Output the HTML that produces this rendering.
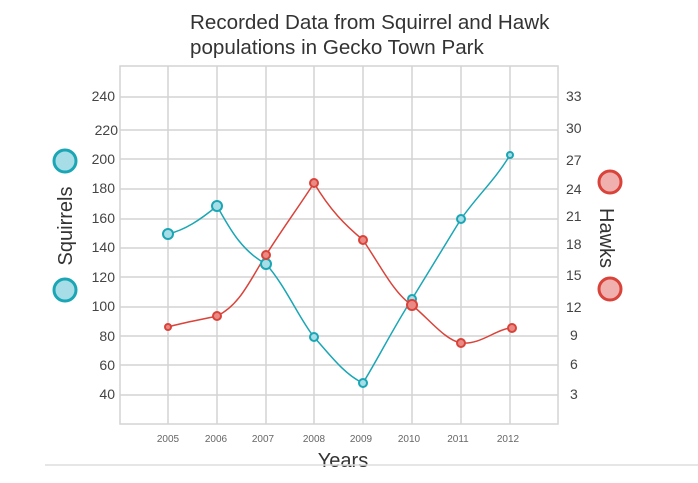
<!DOCTYPE html>
<html><head><style>
body{margin:0;background:#fff;}
svg{display:block;font-family:"Liberation Sans",sans-serif;}
</style></head><body>
<svg width="698" height="483" viewBox="0 0 698 483">
<rect width="698" height="483" fill="#fff"/>
<text x="190" y="29" font-size="20.6" fill="#333">Recorded Data from Squirrel and Hawk</text>
<text x="190" y="54" font-size="20.6" fill="#333">populations in Gecko Town Park</text>
<g stroke="#d4d4d4" stroke-width="1.5" fill="none">
<rect x="120" y="66" width="438" height="358"/>
<line x1="168" y1="66" x2="168" y2="424"/><line x1="217" y1="66" x2="217" y2="424"/>
<line x1="266" y1="66" x2="266" y2="424"/><line x1="314" y1="66" x2="314" y2="424"/>
<line x1="363" y1="66" x2="363" y2="424"/><line x1="412" y1="66" x2="412" y2="424"/>
<line x1="461" y1="66" x2="461" y2="424"/><line x1="510" y1="66" x2="510" y2="424"/>
<line x1="120" y1="97" x2="558" y2="97"/><line x1="120" y1="130" x2="558" y2="130"/>
<line x1="120" y1="159" x2="558" y2="159"/><line x1="120" y1="189" x2="558" y2="189"/>
<line x1="120" y1="219" x2="558" y2="219"/><line x1="120" y1="248" x2="558" y2="248"/>
<line x1="120" y1="277" x2="558" y2="277"/><line x1="120" y1="307" x2="558" y2="307"/>
<line x1="120" y1="336" x2="558" y2="336"/><line x1="120" y1="365" x2="558" y2="365"/>
<line x1="120" y1="395" x2="558" y2="395"/>
</g>
<g font-size="14" fill="#444" text-anchor="end">
<text x="115" y="101">240</text><text x="118" y="135">220</text><text x="115" y="164">200</text>
<text x="115" y="193">180</text><text x="115" y="223">160</text><text x="115" y="252">140</text>
<text x="115" y="282">120</text><text x="115" y="311">100</text><text x="115" y="341">80</text>
<text x="115" y="370">60</text><text x="115" y="399">40</text>
</g>
<g font-size="14" fill="#444">
<text x="566" y="101">33</text><text x="566" y="133">30</text><text x="566" y="165">27</text>
<text x="566" y="194">24</text><text x="566" y="221">21</text><text x="566" y="249">18</text>
<text x="566" y="280">15</text><text x="566" y="312">12</text><text x="570" y="340">9</text>
<text x="570" y="369">6</text><text x="570" y="399">3</text>
</g>
<g font-size="10" fill="#666" text-anchor="middle">
<text x="168" y="442">2005</text><text x="216" y="442">2006</text><text x="263" y="442">2007</text>
<text x="314" y="442">2008</text><text x="361" y="442">2009</text><text x="409" y="442">2010</text>
<text x="458" y="442">2011</text><text x="508" y="442">2012</text>
</g>
<text x="343" y="467" font-size="20" fill="#333" text-anchor="middle">Years</text>
<text transform="translate(72,226) rotate(-90)" font-size="20" fill="#333" text-anchor="middle">Squirrels</text>
<text transform="translate(600,238) rotate(90)" font-size="20" fill="#333" text-anchor="middle">Hawks</text>
<line x1="45" y1="465" x2="698" y2="465" stroke="#ddd" stroke-width="1.5"/>
<g fill="#a6dde6" stroke="#1aa6b5" stroke-width="3">
<circle cx="65" cy="161" r="11"/><circle cx="65" cy="290" r="11"/></g>
<g fill="#f0b0ae" stroke="#d9433a" stroke-width="3">
<circle cx="610" cy="182" r="11"/><circle cx="610" cy="289" r="11"/></g>
<path d="M168,234 C185,230 200,220 217,206 C228,225 240,250 266,264 C285,285 300,320 314,337 C330,355 345,375 363,383 C380,355 395,325 412,299 C430,270 445,245 461,219 C478,195 495,180 510,155" fill="none" stroke="#1aa6b5" stroke-width="1.5"/>
<path d="M168,327 C185,322 200,320 217,316 C240,305 250,280 266,255 C285,225 300,205 314,183 C330,210 345,225 363,240 C380,265 395,295 412,305 C430,320 445,340 461,343 C480,345 495,330 510,328" fill="none" stroke="#d9433a" stroke-width="1.5"/>
<g fill="#a6dde6" stroke="#1aa6b5" stroke-width="2">
<circle cx="168" cy="234" r="5"/><circle cx="217" cy="206" r="5"/><circle cx="266" cy="264" r="5"/>
<circle cx="314" cy="337" r="4"/><circle cx="363" cy="383" r="4"/><circle cx="412" cy="299" r="4"/>
<circle cx="461" cy="219" r="4"/><circle cx="510" cy="155" r="3"/></g>
<g fill="#e98a84" stroke="#d9433a" stroke-width="2">
<circle cx="168" cy="327" r="3"/><circle cx="217" cy="316" r="4"/><circle cx="266" cy="255" r="4"/>
<circle cx="314" cy="183" r="4"/><circle cx="363" cy="240" r="4"/><circle cx="412" cy="305" r="5"/>
<circle cx="461" cy="343" r="4"/><circle cx="512" cy="328" r="4"/></g>
</svg>
</body></html>
